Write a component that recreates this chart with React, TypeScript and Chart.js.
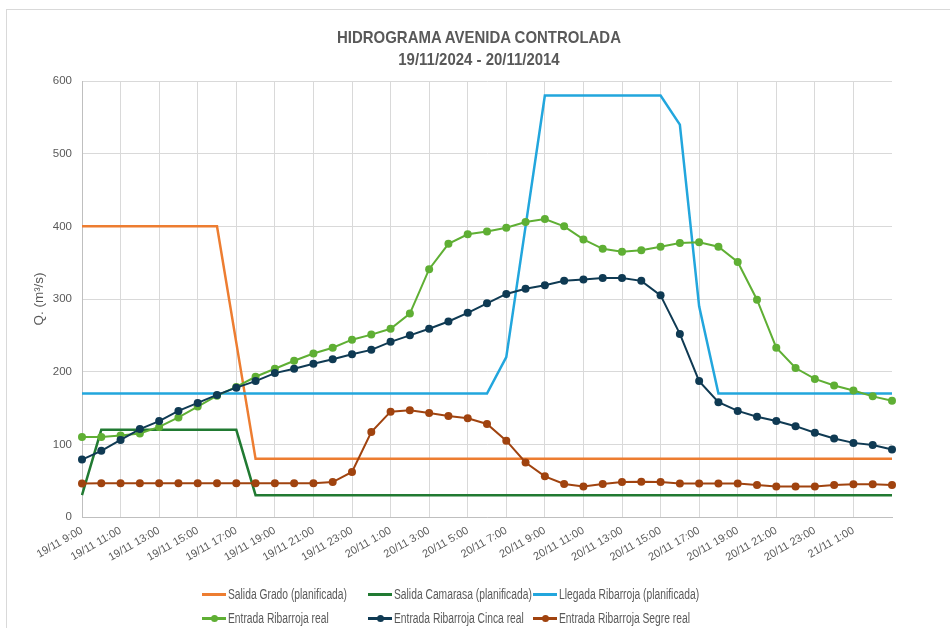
import React, { useEffect, useRef } from "react";
import { Chart, registerables } from "chart.js";

Chart.register(...registerables);

const categories: string[] = [
  "19/11 9:00", "19/11 10:00", "19/11 11:00", "19/11 12:00", "19/11 13:00", "19/11 14:00",
  "19/11 15:00", "19/11 16:00", "19/11 17:00", "19/11 18:00", "19/11 19:00", "19/11 20:00",
  "19/11 21:00", "19/11 22:00", "19/11 23:00", "20/11 0:00", "20/11 1:00", "20/11 2:00",
  "20/11 3:00", "20/11 4:00", "20/11 5:00", "20/11 6:00", "20/11 7:00", "20/11 8:00",
  "20/11 9:00", "20/11 10:00", "20/11 11:00", "20/11 12:00", "20/11 13:00", "20/11 14:00",
  "20/11 15:00", "20/11 16:00", "20/11 17:00", "20/11 18:00", "20/11 19:00", "20/11 20:00",
  "20/11 21:00", "20/11 22:00", "20/11 23:00", "21/11 0:00", "21/11 1:00", "21/11 2:00",
  "21/11 3:00",
];

const salidaGrado: number[] = [
  400, 400, 400, 400, 400, 400, 400, 400, 240, 80, 80, 80, 80, 80, 80, 80, 80, 80, 80, 80, 80, 80,
  80, 80, 80, 80, 80, 80, 80, 80, 80, 80, 80, 80, 80, 80, 80, 80, 80, 80, 80, 80, 80,
];

const salidaCamarasa: number[] = [
  30, 120, 120, 120, 120, 120, 120, 120, 120, 30, 30, 30, 30, 30, 30, 30, 30, 30, 30, 30, 30, 30,
  30, 30, 30, 30, 30, 30, 30, 30, 30, 30, 30, 30, 30, 30, 30, 30, 30, 30, 30, 30, 30,
];

const llegadaRibarroja: number[] = [
  170, 170, 170, 170, 170, 170, 170, 170, 170, 170, 170, 170, 170, 170, 170, 170, 170, 170, 170, 170,
  170, 170, 220, 400, 580, 580, 580, 580, 580, 580, 580, 540, 290, 170, 170, 170, 170, 170, 170, 170,
  170, 170, 170,
];

const entradaReal: number[] = [
  110, 110, 112, 115, 124, 137, 152, 167, 179, 193, 204, 215, 225, 233, 244, 251, 259, 280, 341, 376,
  389, 393, 398, 406, 410, 400, 382, 369, 365, 367, 372, 377, 378, 372, 351, 299, 233, 205, 190, 181,
  174, 166, 160,
];

const entradaCinca: number[] = [
  79, 91, 106, 121, 132, 146, 157, 168, 178, 187, 198, 204, 211, 217, 224, 230, 241, 250, 259, 269,
  281, 294, 307, 314, 319, 325, 327, 329, 329, 325, 305, 252, 187, 158, 146, 138, 132, 125, 116, 108,
  102, 99, 93,
];

const entradaSegre: number[] = [
  46, 46.5, 46.5, 46.5, 46.5, 46.5, 46.5, 46.5, 46.5, 46.5, 46.5, 46.5, 46.5, 48, 62, 117, 145, 147,
  143, 139, 136, 128, 105, 75, 56, 45.5, 42, 45.5, 48, 48.5, 48, 46, 46, 46, 46, 44, 42, 42, 42, 44,
  45, 45, 44,
];

const yTicks: number[] = [0, 100, 200, 300, 400, 500, 600];

const titleLines: string[] = ["HIDROGRAMA AVENIDA CONTROLADA", "19/11/2024 - 20/11/2014"];

const COLORS = {
  grado: "#ED7D31",
  camarasa: "#217A32",
  llegada: "#22A6DD",
  real: "#5FAF34",
  cinca: "#0F3A53",
  segre: "#A0430F",
};

const TXT = "#595959";
const SANS = '"Liberation Sans", Arial, sans-serif';

const legendItems = [
  { label: "Salida Grado (planificada)", color: COLORS.grado, marker: false },
  { label: "Salida Camarasa (planificada)", color: COLORS.camarasa, marker: false },
  { label: "Llegada Ribarroja (planificada)", color: COLORS.llegada, marker: false },
  { label: "Entrada Ribarroja real", color: COLORS.real, marker: true },
  { label: "Entrada Ribarroja Cinca real", color: COLORS.cinca, marker: true },
  { label: "Entrada Ribarroja Segre real", color: COLORS.segre, marker: true },
];

export default function App() {
  const ref = useRef<HTMLCanvasElement | null>(null);

  useEffect(() => {
    if (!ref.current) return;
    const lineDs = (label: string, data: number[], color: string, order: number) => ({
      label,
      data,
      borderColor: color,
      backgroundColor: color,
      borderWidth: 2.5,
      pointRadius: 0,
      tension: 0,
      order,
    });
    const markDs = (label: string, data: number[], color: string, order: number) => ({
      label,
      data,
      borderColor: color,
      backgroundColor: color,
      borderWidth: 2,
      pointRadius: 4,
      pointBorderWidth: 0,
      pointBackgroundColor: color,
      tension: 0,
      order,
    });
    const chart = new Chart(ref.current, {
      type: "line",
      data: {
        labels: categories,
        datasets: [
          lineDs("Salida Grado (planificada)", salidaGrado, COLORS.grado, 6),
          lineDs("Salida Camarasa (planificada)", salidaCamarasa, COLORS.camarasa, 5),
          lineDs("Llegada Ribarroja (planificada)", llegadaRibarroja, COLORS.llegada, 4),
          markDs("Entrada Ribarroja real", entradaReal, COLORS.real, 3),
          markDs("Entrada Ribarroja Cinca real", entradaCinca, COLORS.cinca, 2),
          markDs("Entrada Ribarroja Segre real", entradaSegre, COLORS.segre, 1),
        ] as any,
      },
      options: {
        animation: false,
        responsive: false,
        maintainAspectRatio: false,
        layout: { padding: { left: 27, right: 58, top: 81, bottom: 56 } },
        plugins: {
          legend: { display: false },
          tooltip: { enabled: false },
          title: { display: false },
        },
        scales: {
          x: {
            type: "category",
            offset: false,
            border: { color: "#BFBFBF", width: 1 },
            grid: {
              drawTicks: false,
              color: (ctx: any) =>
                ctx.index % 2 === 0 && ctx.index < categories.length - 1 ? "#D9D9D9" : "rgba(0,0,0,0)",
              lineWidth: 1,
            },
            ticks: {
              autoSkip: false,
              maxRotation: 30,
              minRotation: 30,
              padding: 7,
              color: TXT,
              font: { family: SANS, size: 11 },
              callback: (_v: any, i: number) =>
                i % 2 === 0 && i < categories.length - 1 ? categories[i] : "",
            },
            afterFit: (s: any) => {
              s.height = 55;
            },
          },
          y: {
            min: 0,
            max: 600,
            border: { color: "#BFBFBF", width: 1 },
            grid: { drawTicks: false, color: "#D9D9D9", lineWidth: 1 },
            afterBuildTicks: (s: any) => {
              s.ticks = yTicks.map((v) => ({ value: v }));
            },
            ticks: {
              padding: 10,
              color: TXT,
              font: { family: SANS, size: 11.5 },
            },
            title: {
              display: true,
              text: "Q. (m³/s)",
              color: TXT,
              font: { family: SANS, size: 13.5 },
              padding: { top: 4, bottom: 0 },
            },
            afterFit: (s: any) => {
              s.width = 55;
            },
          },
        },
      } as any,
    });
    return () => chart.destroy();
  }, []);

  const cols = [202, 368, 533];
  const rows = [594, 618];

  return (
    <div
      style={{
        position: "fixed",
        left: 0,
        top: 0,
        width: 950,
        height: 628,
        background: "#fff",
        overflow: "hidden",
      }}
    >
      <div
        style={{
          position: "absolute",
          left: 6,
          top: 9,
          right: -2,
          bottom: -2,
          borderLeft: "1px solid #D9D9D9",
          borderTop: "1px solid #D9D9D9",
        }}
      />
      <canvas ref={ref} width={950} height={628} style={{ position: "absolute", left: 0, top: 0 }} />
      <div
        style={{
          position: "absolute",
          left: 0,
          top: 27,
          width: 958,
          textAlign: "center",
          fontFamily: SANS,
          fontWeight: "bold",
          fontSize: 17,
          lineHeight: "22px",
          color: TXT,
          transform: "scaleX(0.88)",
          transformOrigin: "479px 0",
        }}
      >
        {titleLines.map((t) => (
          <div key={t}>{t}</div>
        ))}
      </div>
      {legendItems.map((it, i) => {
        const x = cols[i % 3];
        const y = rows[Math.floor(i / 3)];
        return (
          <div
            key={it.label}
            style={{
              position: "absolute",
              left: x,
              top: y - 9,
              height: 18,
              display: "flex",
              alignItems: "center",
              whiteSpace: "nowrap",
              fontFamily: SANS,
              fontSize: 14,
              color: TXT,
            }}
          >
            <span style={{ position: "relative", width: 24, height: 18, display: "inline-block" }}>
              <span
                style={{
                  position: "absolute",
                  left: 0,
                  top: 8,
                  width: 24,
                  height: 2.5,
                  background: it.color,
                }}
              />
              {it.marker ? (
                <span
                  style={{
                    position: "absolute",
                    left: 8.5,
                    top: 5.5,
                    width: 7,
                    height: 7,
                    borderRadius: "50%",
                    background: it.color,
                  }}
                />
              ) : null}
            </span>
            <span
              style={{
                marginLeft: 2,
                display: "inline-block",
                transform: "scaleX(0.735)",
                transformOrigin: "0 50%",
              }}
            >
              {it.label}
            </span>
          </div>
        );
      })}
    </div>
  );
}
